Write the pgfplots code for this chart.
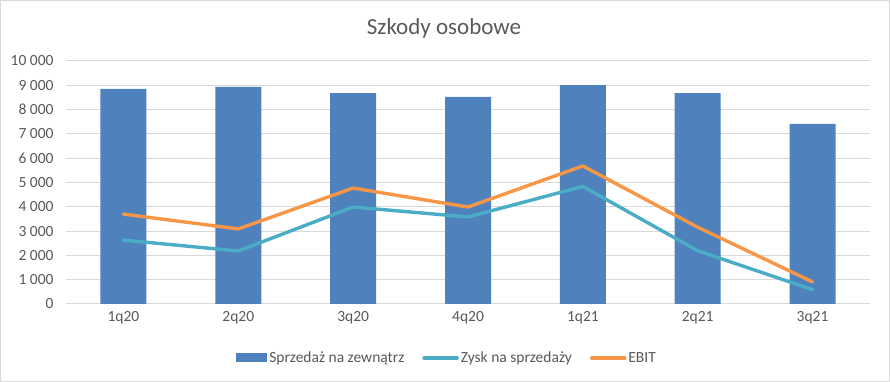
\documentclass[border=0pt]{standalone}
\usepackage{pgfplots}
\pgfplotsset{compat=1.18}
\usepackage{fontspec}
\setmainfont{Carlito}
\definecolor{barblue}{HTML}{4F81BD}
\definecolor{zysk}{HTML}{4BACC6}
\definecolor{ebit}{HTML}{F79646}
\definecolor{txt}{HTML}{595959}
\definecolor{gridgray}{HTML}{D9D9D9}
\begin{document}
\begin{tikzpicture}[x=1pt,y=1pt]
\draw[gridgray, line width=1pt] (0.5,0.5) rectangle (889.5,381.5);
\node[text=txt, font=\fontsize{23}{27}\selectfont] at (444,354) {Szkody osobowe};
\begin{axis}[
  at={(66pt,78pt)}, anchor=south west,
  scale only axis, width=804pt, height=243pt,
  xmin=-0.5, xmax=6.5, ymin=0, ymax=10000,
  xtick={0,1,2,3,4,5,6},
  xticklabels={1q20,2q20,3q20,4q20,1q21,2q21,3q21},
  ytick={0,1000,...,10000},
  scaled y ticks=false,
  ymajorgrids=true, xmajorgrids=false,
  major grid style={draw=gridgray, line width=1pt},
  axis lines*=left,
  x axis line style={draw=gridgray, line width=1pt, -},
  y axis line style={draw=none},
  major tick length=0pt,
  ticklabel style={text=txt, font=\fontsize{15.5}{18}\selectfont},
  /pgf/number format/assume math mode=true,
  /pgf/number format/1000 sep={\ },
  yticklabel style={xshift=-9pt},
  xticklabel style={yshift=-4pt},
  legend columns=3,
  legend style={draw=none, at={(0.474,-0.222)}, anchor=center,
    font=\fontsize{15.5}{18}\selectfont, text=txt,
    /tikz/every even column/.append style={column sep=16pt}},
  clip=false,
]
\addplot[ybar, bar width=46pt, fill=barblue, draw=none,
  legend image code/.code={\fill[barblue] (0pt,-4.5pt) rectangle (31pt,4.5pt);}]
  coordinates {(0,8850) (1,8930) (2,8680) (3,8520) (4,9010) (5,8680) (6,7410)};
\addlegendentry{Sprzedaż na zewnątrz}
\addplot[zysk, line width=3.4pt, line cap=round, line join=round, mark=none,
  legend image code/.code={\draw[zysk, line width=3.4pt, line cap=round] (0pt,0pt) -- (33pt,0pt);}]
  coordinates {(0,2630) (1,2180) (2,3990) (3,3580) (4,4840) (5,2190) (6,590)};
\addlegendentry{Zysk na sprzedaży}
\addplot[ebit, line width=3.4pt, line cap=round, line join=round, mark=none,
  legend image code/.code={\draw[ebit, line width=3.4pt, line cap=round] (0pt,0pt) -- (33pt,0pt);}]
  coordinates {(0,3700) (1,3090) (2,4770) (3,3990) (4,5680) (5,3160) (6,910)};
\addlegendentry{EBIT}
\end{axis}
\end{tikzpicture}
\end{document}
